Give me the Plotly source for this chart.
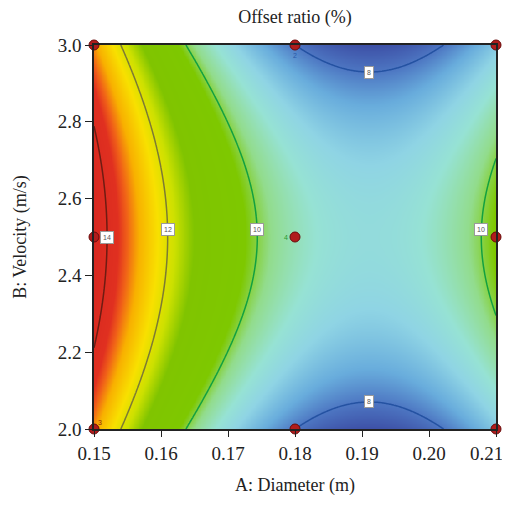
import numpy as np
import plotly.graph_objects as go

# ---------------- data ----------------
diameter_levels = [0.15, 0.18, 0.21]      # A: Diameter (m)
velocity_levels = [2.0, 2.5, 3.0]         # B: Velocity (m/s)
# predicted offset ratio (%) at the design grid; rows = velocity, cols = diameter
offset_at_design = [
    [13.0, 8.0, 8.75],    # B = 2.0
    [14.5, 9.5, 10.25],   # B = 2.5
    [13.0, 8.0, 8.75],    # B = 3.0
]
# replicate counts shown beside design points
replicates = [
    [3, 1, 1],
    [1, 4, 1],
    [1, 2, 1],
]
contour_levels = [14, 12, 10, 8]
x_ticks = [0.15, 0.16, 0.17, 0.18, 0.19, 0.20, 0.21]
y_ticks = [2.0, 2.2, 2.4, 2.6, 2.8, 3.0]

# ---------------- quadratic response-surface fit ----------------
A0, dA = 0.18, 0.03
B0, dB = 2.5, 0.5
pts_a, pts_b, pts_y = [], [], []
for i, bv in enumerate(velocity_levels):
    for j, av in enumerate(diameter_levels):
        pts_a.append((av - A0) / dA)
        pts_b.append((bv - B0) / dB)
        pts_y.append(offset_at_design[i][j])
pa, pb, py = map(np.array, (pts_a, pts_b, pts_y))
X = np.column_stack([np.ones_like(pa), pa, pb, pa * pb, pa ** 2, pb ** 2])
beta, *_ = np.linalg.lstsq(X, py, rcond=None)
c0, c1, c2, c3, c4, c5 = beta


def model(a, b):
    return c0 + c1 * a + c2 * b + c3 * a * b + c4 * a ** 2 + c5 * b ** 2


xs = np.linspace(diameter_levels[0], diameter_levels[-1], 241)
ys = np.linspace(velocity_levels[0], velocity_levels[-1], 241)
AA, BB = np.meshgrid((xs - A0) / dA, (ys - B0) / dB)
Z = model(AA, BB)
zmin, zmax = float(Z.min()), float(Z.max())

# ---------------- colours ----------------
stops_v = [zmin, 8.0, 8.4, 8.9, 9.3, 9.8, 10.2, 11.3, 11.8, 12.3, 12.9, 13.3, 13.6, zmax]
stops_c = ["#3d50a6", "#4d76c2", "#68acdc", "#8fd4e4", "#96e2d4", "#92dc8c",
           "#7ec800", "#80c400", "#cce000", "#f8e000", "#f8b000", "#f06018",
           "#e03020", "#d82820"]
colorscale = [[(v - zmin) / (zmax - zmin), c] for v, c in zip(stops_v, stops_c)]
colorscale[0][0] = 0.0
colorscale[-1][0] = 1.0
line_colors = {14: "#6e1c12", 12: "#7c7a34", 10: "#12a040", 8: "#2452a2"}
rep_colors = {3: "#8a2a10", 4: "#2a9a30", 2: "#2a5aa8"}

fig = go.Figure()
fig.add_trace(go.Heatmap(x=xs, y=ys, z=Z, colorscale=colorscale, zmin=zmin, zmax=zmax,
                         zsmooth="best", showscale=False, hoverinfo="skip"))
for L in contour_levels:
    fig.add_trace(go.Contour(x=xs, y=ys, z=Z, showscale=False, hoverinfo="skip",
                             contours=dict(coloring="none", start=L, end=L, size=1),
                             line=dict(color=line_colors[L], width=1.5)))

# design points
dx, dy, reps = [], [], []
for i, bv in enumerate(velocity_levels):
    for j, av in enumerate(diameter_levels):
        dx.append(av); dy.append(bv); reps.append(replicates[i][j])
fig.add_trace(go.Scatter(x=dx, y=dy, mode="markers", cliponaxis=False, hoverinfo="skip",
                         marker=dict(size=10, color="#b01c1c",
                                     line=dict(color="#6a0a0a", width=1))))

annotations = []
for x, y, r in zip(dx, dy, reps):
    if r > 1:
        if y == velocity_levels[-1]:
            xs_, ys_ = 0, -10
        elif y == velocity_levels[0]:
            xs_, ys_ = 6, 7
        else:
            xs_, ys_ = -9, 0
        annotations.append(dict(x=x, y=y, text=str(r), showarrow=False, xshift=xs_, yshift=ys_,
                                font=dict(size=7, color=rep_colors[r], family="Liberation Sans")))


def label(x_val, y_val, L):
    annotations.append(dict(x=x_val, y=y_val, text=str(L), showarrow=False,
                            bgcolor="white", bordercolor="#9a9a9a", borderwidth=1, borderpad=2,
                            font=dict(size=7, color="#555555", family="Liberation Sans")))


# labels on the vertical-ish contours (solve model for a at a chosen b)
for L, bl in [(14, 0.0), (12, 0.04), (10, 0.04)]:
    qa, qb, qc = c4, c1 + c3 * bl, c0 + c2 * bl + c5 * bl ** 2 - L
    disc = qb * qb - 4 * qa * qc
    roots = sorted([(-qb - np.sqrt(disc)) / (2 * qa), (-qb + np.sqrt(disc)) / (2 * qa)])
    for rt in roots:
        if -1 <= rt <= 1:
            label(A0 + rt * dA, B0 + bl * dB, L)
# labels on the 8 contours at the vertex
av = -c1 / (2 * c4)
qa, qb, qc = c5, c2 + c3 * av, c0 + c1 * av + c4 * av ** 2 - 8
disc = qb * qb - 4 * qa * qc
for rt in [(-qb - np.sqrt(disc)) / (2 * qa), (-qb + np.sqrt(disc)) / (2 * qa)]:
    if -1 <= rt <= 1:
        label(A0 + av * dA, B0 + rt * dB, 8)

# tick texts; the last one is padded so it stays inside the page edge
x_ticktext = [f"{v:.2f}" for v in x_ticks]
x_ticktext[-1] = x_ticktext[-1] + "\u2007\u2007"

font_family = "Liberation Serif"
# page body has an 8 px margin, so the figure is offset by 8 px
fig.update_layout(
    width=510, height=488,
    margin=dict(l=86, r=22, t=37, b=67),
    paper_bgcolor="white", plot_bgcolor="white",
    showlegend=False,
    font=dict(family=font_family, size=19, color="#222222"),
    title=dict(text="Offset ratio (%)", xref="paper", x=0.5, xanchor="center",
               yref="container", y=1 - 9 / 488, yanchor="middle",
               font=dict(family=font_family, size=18, color="#222222")),
    annotations=annotations,
    xaxis=dict(range=[diameter_levels[0], diameter_levels[-1]], tickvals=x_ticks,
               ticktext=x_ticktext, ticks="outside", ticklen=6,
               tickcolor="#222", showline=True, linecolor="#222", linewidth=1.5, mirror=True,
               showgrid=False, zeroline=False, automargin=False,
               ticklabeloverflow="allow",
               tickfont=dict(size=19),
               title=dict(text="A: Diameter (m)", standoff=22, font=dict(size=18))),
    yaxis=dict(range=[velocity_levels[0], velocity_levels[-1]], tickvals=y_ticks,
               ticktext=[f"{v:.1f}" for v in y_ticks], ticks="outside", ticklen=7,
               tickcolor="#222", showline=True, linecolor="#222", linewidth=1.5, mirror=True,
               showgrid=False, zeroline=False, automargin=False,
               tickfont=dict(size=19),
               title=dict(text="B: Velocity (m/s)", standoff=26, font=dict(size=18))),
)
fig.write_html("out.html")
